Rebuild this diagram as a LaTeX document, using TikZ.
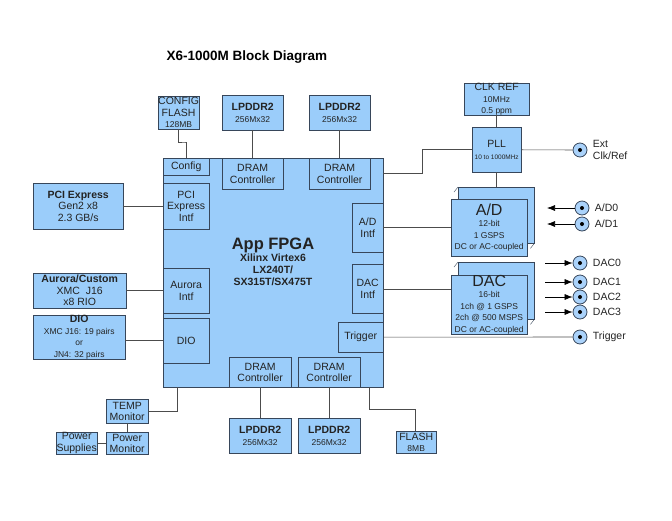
\documentclass[tikz,border=0pt]{standalone}
\usepackage{fontspec}
\setmainfont{Liberation Sans}
\usetikzlibrary{positioning,arrows.meta}
\definecolor{chip}{RGB}{155,205,250}
\definecolor{jackc}{RGB}{170,210,250}
\definecolor{edge}{RGB}{55,70,90}
\definecolor{txt}{RGB}{35,35,35}
\tikzset{
  blk/.style={draw=edge,fill=chip,inner sep=0pt,align=center,anchor=north west,
    text=txt,font=\fontsize{10.5}{11.5}\selectfont},
  wire/.style={draw=black!70,semithick},
  sig/.style={-{Latex[length=8pt,width=6pt]},black,semithick},
  jack/.style={circle,draw=edge,thick,fill=jackc,minimum size=14pt,inner sep=0pt,
    path picture={\fill[black] (path picture bounding box.center) circle (2pt);}},
  jlbl/.style={right=2pt,font=\fontsize{10.5}{11.5}\selectfont,align=left,text=txt}
}
\newcommand\sub[1]{{\fontsize{8.5}{9.5}\selectfont #1}}
\newcommand\hd[1]{{\bfseries #1}}
\begin{document}
\begin{tikzpicture}[x=1pt,y=-1pt]
    \useasboundingbox (0,0) rectangle (672,520);
    \node[font=\bfseries\fontsize{13.5}{15}\selectfont,anchor=west] (title) at (163,57) {X6-1000M Block Diagram};

    % FPGA and its blocks
    \node[blk,minimum width=220pt,minimum height=229pt] (fpga) at (163,158) {};
    \node[align=center,text=txt] (fpgat) at (273,262) {{\bfseries\fontsize{16.5}{19}\selectfont App FPGA}\\
      \bfseries\fontsize{10.5}{12.5}\selectfont Xilinx Virtex6\\\bfseries\fontsize{10.5}{12.5}\selectfont LX240T/\\\bfseries\fontsize{10.5}{12.5}\selectfont SX315T/SX475T};
    \node[blk,minimum width=46pt,minimum height=17pt] (cfg) at (163,158) {Config};
    \node[blk,minimum width=61pt,minimum height=31pt] (dc1) at (222,158) {DRAM\\Controller};
    \node[blk,minimum width=61pt,minimum height=31pt] (dc2) at (309,158) {DRAM\\Controller};
    \node[blk,minimum width=46pt,minimum height=46pt] (pcii) at (163,183) {PCI\\Express\\Intf};
    \node[blk,minimum width=46pt,minimum height=45pt] (auri) at (163,268) {Aurora\\Intf};
    \node[blk,minimum width=46pt,minimum height=45pt] (dioi) at (163,318) {DIO};
    \node[blk,minimum width=31pt,minimum height=49pt] (adi) at (352,203) {A/D\\Intf};
    \node[blk,minimum width=31pt,minimum height=49pt] (daci) at (352,264) {DAC\\Intf};
    \node[blk,minimum width=45pt,minimum height=30pt] (trg) at (338,322) {Trigger};
    \node[blk,minimum width=62pt,minimum height=30pt] (dc3) at (229,357) {DRAM\\Controller};
    \node[blk,minimum width=62pt,minimum height=30pt] (dc4) at (298,357) {DRAM\\Controller};

    % memories
    \node[blk,minimum width=40pt,minimum height=33pt] (cflash) at (158,96) {CONFIG\\FLASH\\\sub{128MB}};
    \node[blk,minimum width=61pt,minimum height=35pt] (mem1) at (222,95) {\hd{LPDDR2}\\\sub{256Mx32}};
    \node[blk,minimum width=61pt,minimum height=35pt] (mem2) at (309,95) {\hd{LPDDR2}\\\sub{256Mx32}};
    \node[blk,minimum width=62pt,minimum height=35pt] (mem3) at (229,418) {\hd{LPDDR2}\\\sub{256Mx32}};
    \node[blk,minimum width=62pt,minimum height=35pt] (mem4) at (298,418) {\hd{LPDDR2}\\\sub{256Mx32}};
    \node[blk,minimum width=40pt,minimum height=22pt] (flash) at (396,431) {FLASH\\\sub{8MB}};

    % host side
    \node[blk,minimum width=90pt,minimum height=46pt] (pcie) at (33,183) {\hd{PCI Express}\\Gen2 x8\\2.3 GB/s};
    \node[blk,minimum width=93pt,minimum height=35pt] (aur) at (33,273) {\hd{Aurora/Custom}\\XMC\ \ J16\\x8 RIO};
    \node[blk,minimum width=92pt,minimum height=42pt] (dio) at (33,315) {\hd{DIO}\\\sub{XMC J16: 19 pairs}\\\sub{or}\\\sub{JN4: 32 pairs}};
    \node[blk,minimum width=42pt,minimum height=24pt] (temp) at (106,399) {TEMP\\Monitor};
    \node[blk,minimum width=42pt,minimum height=22pt] (pmon) at (106,432) {Power\\Monitor};
    \node[blk,minimum width=41pt,minimum height=22pt] (psup) at (56,432) {Power\\Supplies};

    % clocking
    \node[blk,minimum width=65pt,minimum height=28pt] (clkref) at (464,83) {CLK REF\\\sub{10MHz}\\\sub{0.5 ppm}};
    \node[blk,minimum width=49pt,minimum height=45pt] (pll) at (472,127) {PLL\\{\fontsize{6.5}{7.5}\selectfont 10 to 1000MHz}};

    % converters (stacked)
    \node[blk,minimum width=76pt,minimum height=56pt] (adb) at (458,187) {};
    \draw[edge] (adb.north west) -- ++(-4,5) (adb.south east) -- ++(-4,5);
    \node[blk,minimum width=76pt,minimum height=57pt] (ad) at (451,199) {{\fontsize{16}{17}\selectfont A/D}\\\sub{12-bit}\\\sub{1 GSPS}\\\sub{DC or AC-coupled}};
    \node[blk,minimum width=76pt,minimum height=57pt] (dacb) at (458,262) {};
    \draw[edge] (dacb.north west) -- ++(-4,5) (dacb.south east) -- ++(-4,5);
    \node[blk,minimum width=76pt,minimum height=57pt] (dac) at (451,275) {{\fontsize{16}{17}\selectfont DAC}\\\sub{16-bit}\\\sub{1ch @ 1 GSPS}\\\sub{2ch @ 500 MSPS}\\\sub{DC or AC-coupled}};

    % connectors
    \node[jack] (jclk) at (580,150) {};
    \node[jlbl] (lclk) at (jclk.east) {Ext\\Clk/Ref};
    \node[jack] (jad0) at (582,208) {};
    \node[jlbl] at (jad0.east) {A/D0};
    \node[jack] (jad1) at (582,224) {};
    \node[jlbl] at (jad1.east) {A/D1};
    \foreach \i/\y in {0/263,1/282,2/297,3/312} {
      \node[jack] (jdac\i) at (580,\y) {};
      \node[jlbl] at (jdac\i.east) {DAC\i};
      \coordinate (s\i) at (545,\y);
      \draw[sig] (s\i) -- (jdac\i);
    }
    \node[jack] (jtrg) at (580,337) {};
    \node[jlbl] at (jtrg.east) {Trigger};
    \coordinate (a0) at (547,208);
    \coordinate (a1) at (547,224);
    \draw[sig] (jad0) -- (a0);
    \draw[sig] (jad1) -- (a1);

    % wires
    \coordinate (ck) at (383,173);
    \draw[wire] (ck) -- (422,173) |- (pll.west);
    \draw[wire] (pll) -- (jclk);
    \draw[wire] (clkref) -- (pll);
    \draw[wire] (pll.south) -- (adb.north -| pll.south);
    \draw[wire] (adi.east |- 0,227) -- (ad.west |- 0,227);
    \draw[wire] (daci.east |- 0,289) -- (dac.west |- 0,289);
    \draw[wire] (trg) -- (jtrg);
    \draw[wire] (cflash.south) |- (185,142) -| (cfg.north);
    \draw[wire] (mem1) -- (dc1);
    \draw[wire] (mem2) -- (dc2);
    \draw[wire] (dc3) -- (mem3);
    \draw[wire] (dc4) -- (mem4);
    \draw[wire] (pcie) -- (pcii);
    \draw[wire] (aur) -- (auri);
    \draw[wire] (dio.east |- dioi.west) -- (dioi);
    \draw[wire] (fpga.south -| 369,0) |- (415,409) -- (flash.north -| 415,0);
    \draw[wire] (fpga.south -| 177,0) |- (temp.east);
    \draw[wire] (temp) -- (pmon);
    \draw[wire] (psup) -- (pmon);
\end{tikzpicture}
\end{document}
